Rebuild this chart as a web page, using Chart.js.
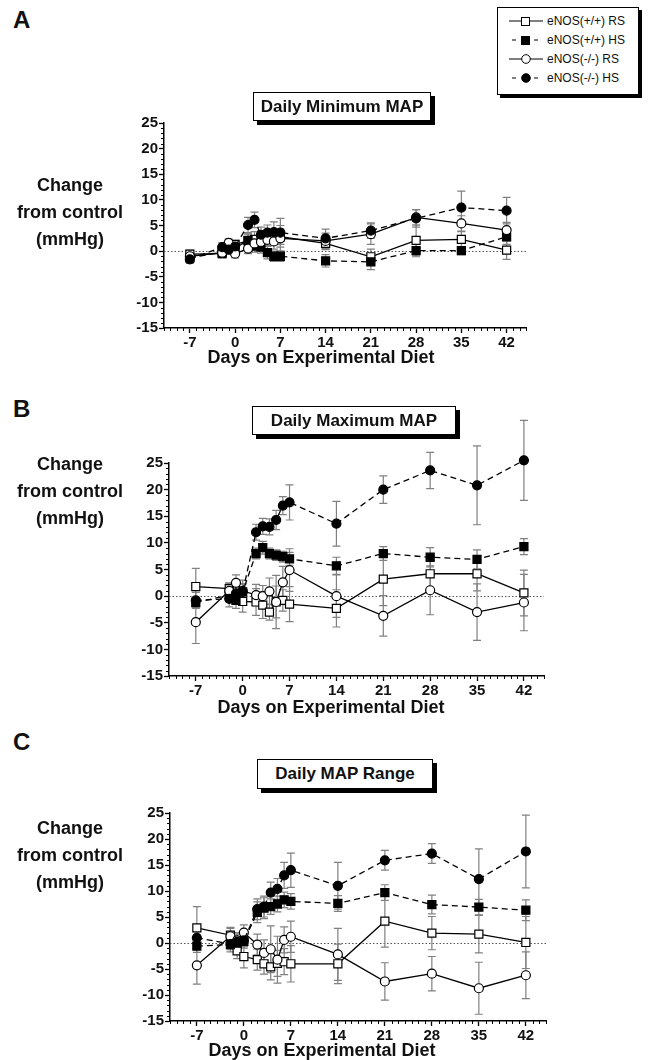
<!DOCTYPE html>
<html>
<head>
<meta charset="utf-8">
<script src="https://cdn.jsdelivr.net/npm/chart.js@4.4.1/dist/chart.umd.min.js"></script>
<style>
  body { margin: 0; background: #fff; font-family: "Liberation Sans", Arial, sans-serif; color: #111; }
  #page { position: relative; width: 650px; height: 1060px; overflow: hidden; }
  canvas { position: absolute; }
  .txt { position: absolute; z-index: 2; font-weight: bold; }
  .letter { font-size: 24px; }
  .ylab { font-size: 18px; text-align: center; line-height: 27px; width: 140px; }
  .xlab { font-size: 18px; width: 300px; text-align: center; line-height: 20px; }
  .tbox { border: 1.5px solid #000; box-shadow: 4px 4px 0 #000; background: #fff;
          font-size: 17px; text-align: center; }
  #legend { position: absolute; z-index: 2; left: 497px; top: 7px; width: 140px; height: 86px;
            border: 1px solid #000; box-shadow: 3px 3px 0 #000; background: #fff;
            font-size: 12px; font-weight: normal; }
  #legend div { height: 19px; line-height: 19px; padding-left: 11px; white-space: nowrap; }
  #legend svg { vertical-align: middle; margin-right: 4px; margin-top: -2px; }
</style>
</head>
<body>
<div id="page">
  <div class="txt letter" style="left:13px;top:6px">A</div>
  <div class="txt letter" style="left:13px;top:395px">B</div>
  <div class="txt letter" style="left:13px;top:728px">C</div>

  <div id="legend">
    <div style="margin-top:4px"><svg width="34" height="12"><line x1="0" y1="6" x2="34" y2="6" stroke="#000" stroke-width="1"/><rect x="12.5" y="2.5" width="8" height="8" fill="#fff" stroke="#000"/></svg>eNOS(+/+) RS</div>
    <div><svg width="34" height="12"><line x1="3" y1="6" x2="31" y2="6" stroke="#000" stroke-width="1" stroke-dasharray="4 7"/><rect x="12.5" y="2.5" width="8" height="8" fill="#000" stroke="#000"/></svg>eNOS(+/+) HS</div>
    <div><svg width="34" height="12"><line x1="0" y1="6" x2="34" y2="6" stroke="#000" stroke-width="1"/><circle cx="17" cy="6" r="4.3" fill="#fff" stroke="#000"/></svg>eNOS(-/-) RS</div>
    <div><svg width="34" height="12"><line x1="3" y1="6" x2="31" y2="6" stroke="#000" stroke-width="1" stroke-dasharray="4 7"/><circle cx="17" cy="6" r="4.3" fill="#000" stroke="#000"/></svg>eNOS(-/-) HS</div>
  </div>

  <div class="txt tbox" style="left:253px;top:92px;width:176px;height:27px;line-height:27px">Daily Minimum MAP</div>
  <div class="txt tbox" style="left:252px;top:406px;width:202px;height:27px;line-height:27px">Daily Maximum MAP</div>
  <div class="txt tbox" style="left:257px;top:759px;width:174px;height:28px;line-height:28px">Daily MAP Range</div>

  <div class="txt ylab" style="left:0px;top:172px">Change<br>from control<br>(mmHg)</div>
  <div class="txt ylab" style="left:0px;top:451px">Change<br>from control<br>(mmHg)</div>
  <div class="txt ylab" style="left:0px;top:815px">Change<br>from control<br>(mmHg)</div>

  <div class="txt xlab" style="left:171px;top:347px">Days on Experimental Diet</div>
  <div class="txt xlab" style="left:181px;top:697px">Days on Experimental Diet</div>
  <div class="txt xlab" style="left:172px;top:1040px">Days on Experimental Diet</div>

  <canvas id="chartA"></canvas>
  <canvas id="chartB"></canvas>
  <canvas id="chartC"></canvas>
</div>
<script>
// days on experimental diet
const days = [-7, -2, -1, 0, 2, 3, 4, 5, 6, 7, 14, 21, 28, 35, 42];
const dayTicks = [-7, 0, 7, 14, 21, 28, 35, 42];
const seriesNames = ['eNOS(+/+) RS', 'eNOS(+/+) HS', 'eNOS(-/-) RS', 'eNOS(-/-) HS'];

// A: daily minimum MAP
const wtRS_A = [-0.6, -0.5, 1.0, 1.3, 2.0, 2.3, 2.5, 2.6, 2.7, 2.8, 1.5, -1.1, 2.1, 2.3, 0.2];
const wtHS_A = [-1.3, -0.2, 0.3, 0.6, 2.1, 1.0, 0.8, -0.3, -1.0, -1.0, -1.9, -2.1, 0.1, 0.1, 2.8];
const koRS_A = [-1.0, -0.3, 1.6, -0.5, 0.5, 1.5, 1.8, 2.2, 1.9, 2.5, 2.0, 3.3, 6.6, 5.4, 4.1];
const koHS_A = [-1.6, 0.8, 0.3, 0.9, 5.1, 6.1, 3.2, 3.6, 3.7, 3.6, 2.5, 4.0, 6.4, 8.5, 7.9];
const wtRS_A_err = [0.8, 0.8, 0.8, 0.8, 1.5, 1.5, 1.5, 1.5, 1.5, 1.5, 1.2, 1.5, 3.0, 1.5, 1.8];
const wtHS_A_err = [0.8, 0.8, 0.8, 0.8, 1.2, 1.2, 1.2, 1.2, 1.0, 1.0, 1.2, 1.5, 1.2, 0.8, 1.5];
const koRS_A_err = [0.8, 0.8, 0.8, 0.8, 1.0, 1.0, 1.2, 1.2, 1.5, 2.5, 1.5, 2.0, 1.5, 1.5, 1.5];
const koHS_A_err = [0.8, 0.8, 0.8, 0.8, 1.5, 1.5, 1.5, 1.5, 2.0, 2.8, 1.8, 1.5, 1.7, 3.2, 2.6];

// B: daily maximum MAP
const wtRS_B = [1.8, 1.4, 0.0, -1.0, -1.1, -1.7, -3.0, -1.1, -0.8, -1.5, -2.3, 3.2, 4.2, 4.2, 0.6];
const wtHS_B = [-1.2, 0.2, -0.8, 0.8, 8.0, 9.1, 8.0, 7.7, 7.4, 7.0, 5.7, 8.0, 7.3, 6.9, 9.3];
const koRS_B = [-4.9, 1.0, 2.5, 1.0, 0.2, 0.0, 0.9, -1.1, 2.6, 4.9, 0.0, -3.7, 1.1, -3.0, -1.2];
const koHS_B = [-0.8, -0.5, 0.5, 0.8, 12.0, 13.1, 13.0, 14.3, 17.0, 17.6, 13.6, 20.0, 23.6, 20.8, 25.5];
const wtRS_B_err = [3.4, 1.0, 1.0, 2.0, 2.5, 2.5, 1.5, 3.0, 2.0, 3.3, 3.5, 5.0, 3.2, 3.2, 4.3];
const wtHS_B_err = [1.0, 1.0, 1.5, 1.5, 1.0, 1.2, 1.0, 1.0, 1.0, 1.2, 1.6, 1.3, 1.8, 1.8, 1.5];
const koRS_B_err = [4.0, 1.5, 1.5, 2.0, 2.0, 2.0, 2.5, 5.0, 3.0, 4.0, 4.0, 3.8, 4.6, 5.3, 5.3];
const koHS_B_err = [1.5, 1.5, 1.5, 1.5, 1.5, 1.5, 1.5, 1.8, 1.7, 3.3, 4.2, 2.6, 3.4, 7.4, 7.5];

// C: daily MAP range
const wtRS_C = [2.9, 1.5, -1.5, -2.6, -3.2, -4.0, -4.6, -3.9, -3.6, -4.0, -4.0, 4.2, 1.9, 1.7, 0.1];
const wtHS_C = [-0.6, -0.3, 0.0, 0.3, 5.9, 6.7, 7.0, 7.5, 8.3, 8.0, 7.6, 9.7, 7.4, 6.9, 6.3];
const koRS_C = [-4.3, 1.3, 0.5, 2.0, -0.3, -1.9, -1.2, -3.2, 0.6, 1.2, -2.2, -7.4, -5.9, -8.7, -6.2];
const koHS_C = [1.0, -0.2, 0.2, 0.5, 6.5, 7.0, 9.7, 10.4, 13.0, 14.0, 11.0, 15.9, 17.2, 12.3, 17.6];
const wtRS_C_err = [4.1, 1.5, 1.5, 2.2, 2.0, 2.0, 2.5, 2.5, 2.5, 3.5, 3.8, 5.0, 3.2, 3.6, 5.0];
const wtHS_C_err = [1.2, 1.0, 1.0, 1.0, 2.0, 2.0, 1.5, 1.5, 1.5, 1.5, 1.5, 1.5, 1.8, 1.5, 2.0];
const koRS_C_err = [3.6, 1.5, 1.5, 1.5, 2.0, 2.5, 4.5, 4.5, 2.5, 3.0, 5.0, 3.6, 3.3, 5.0, 4.5];
const koHS_C_err = [1.2, 1.5, 1.5, 1.5, 2.0, 2.0, 2.0, 2.0, 2.5, 3.3, 4.5, 1.9, 1.9, 5.8, 7.0];

const FONT = '"Liberation Sans", Arial, sans-serif';

// error bars, drawn under the markers
const errorBars = {
  id: 'errorBars',
  beforeDatasetsDraw(chart) {
    const ctx = chart.ctx, xs = chart.scales.x, ys = chart.scales.y;
    ctx.save();
    ctx.strokeStyle = '#808080';
    ctx.lineWidth = 1.2;
    chart.data.datasets.forEach(ds => {
      ds.data.forEach((p, i) => {
        const e = ds.errs[i];
        const x = xs.getPixelForValue(p.x);
        const y1 = ys.getPixelForValue(p.y + e), y2 = ys.getPixelForValue(p.y - e);
        ctx.beginPath();
        ctx.moveTo(x, y1); ctx.lineTo(x, y2);
        ctx.moveTo(x - 4, y1); ctx.lineTo(x + 4, y1);
        ctx.moveTo(x - 4, y2); ctx.lineTo(x + 4, y2);
        ctx.stroke();
      });
    });
    ctx.restore();
  }
};

// dotted zero line and minor ticks
const axisExtras = {
  id: 'axisExtras',
  beforeDatasetsDraw(chart) {
    const ctx = chart.ctx, xs = chart.scales.x, ys = chart.scales.y, a = chart.chartArea;
    ctx.save();
    ctx.strokeStyle = '#555';
    ctx.lineWidth = 1;
    ctx.setLineDash([1.5, 2]);
    const y0 = Math.round(ys.getPixelForValue(0)) + 0.5;
    ctx.beginPath(); ctx.moveTo(a.left, y0); ctx.lineTo(a.right, y0); ctx.stroke();
    ctx.setLineDash([]);
    ctx.strokeStyle = '#000';
    ctx.beginPath();
    for (let d = Math.ceil(xs.min); d <= xs.max; d++) {
      if (d % 7 === 0) continue;
      const x = Math.round(xs.getPixelForValue(d)) + 0.5;
      ctx.moveTo(x, a.bottom); ctx.lineTo(x, a.bottom + 3);
    }
    for (let v = ys.min; v <= ys.max; v++) {
      if (v % 5 === 0) continue;
      const y = Math.round(ys.getPixelForValue(v)) + 0.5;
      ctx.moveTo(a.left, y); ctx.lineTo(a.left - 3, y);
    }
    ctx.stroke();
    ctx.restore();
  }
};

function makeSet(i, vals, errs) {
  const filled = i % 2 === 1;
  return {
    label: seriesNames[i],
    data: days.map((d, k) => ({ x: d, y: vals[k] })),
    errs: errs,
    borderColor: '#000',
    borderWidth: 1.3,
    borderDash: filled ? [6, 4] : [],
    pointStyle: i < 2 ? 'rect' : 'circle',
    pointRadius: i < 2 ? 5.7 : 4.5,
    pointBackgroundColor: filled ? '#000' : '#fff',
    pointBorderColor: '#000',
    pointBorderWidth: 1.2,
    clip: false,
    tension: 0
  };
}

function makeChart(id, box, sets, errs) {
  const cv = document.getElementById(id);
  cv.width = box.w; cv.height = box.h;
  cv.style.left = box.left + 'px'; cv.style.top = box.top + 'px';
  new Chart(cv, {
    type: 'line',
    data: { datasets: sets.map((s, i) => makeSet(i, s, errs[i])).reverse() },
    options: {
      responsive: false,
      animation: false,
      devicePixelRatio: 1,
      layout: { padding: { top: box.padTop, right: 15, left: 0, bottom: 0 } },
      plugins: { legend: { display: false }, tooltip: { enabled: false } },
      scales: {
        x: {
          type: 'linear', min: -11, max: 45,
          afterFit: s => { s.height = box.xh; },
          afterBuildTicks: s => { s.ticks = dayTicks.map(v => ({ value: v })); },
          grid: { display: true, drawOnChartArea: false, drawTicks: true, tickLength: 5, tickColor: '#000', tickWidth: 1.3 },
          border: { display: true, color: '#000', width: 1.5 },
          ticks: { color: '#111', padding: 1, maxRotation: 0, font: { family: FONT, size: 15, weight: 'bold' } },
          title: { display: false }
        },
        y: {
          min: -15, max: 25,
          afterFit: s => { s.width = 45; },
          ticks: { stepSize: 5, color: '#111', padding: 1, font: { family: FONT, size: 15, weight: 'bold' } },
          grid: { display: true, drawOnChartArea: false, drawTicks: true, tickLength: 5, tickColor: '#000', tickWidth: 1.3 },
          border: { display: true, color: '#000', width: 1.5 }
        }
      }
    },
    plugins: [axisExtras, errorBars]
  });
}

// chart area: A x 164..526, y 123..328; B x 169..544, y 463..676; C x 170..546, y 813..1021
makeChart('chartA', { left: 119, top: 103, w: 422, h: 264, padTop: 20, xh: 39 },
  [wtRS_A, wtHS_A, koRS_A, koHS_A], [wtRS_A_err, wtHS_A_err, koRS_A_err, koHS_A_err]);
makeChart('chartB', { left: 124, top: 413, w: 435, h: 304, padTop: 50, xh: 41 },
  [wtRS_B, wtHS_B, koRS_B, koHS_B], [wtRS_B_err, wtHS_B_err, koRS_B_err, koHS_B_err]);
makeChart('chartC', { left: 125, top: 793, w: 436, h: 267, padTop: 20, xh: 39 },
  [wtRS_C, wtHS_C, koRS_C, koHS_C], [wtRS_C_err, wtHS_C_err, koRS_C_err, koHS_C_err]);
</script>
</body>
</html>
